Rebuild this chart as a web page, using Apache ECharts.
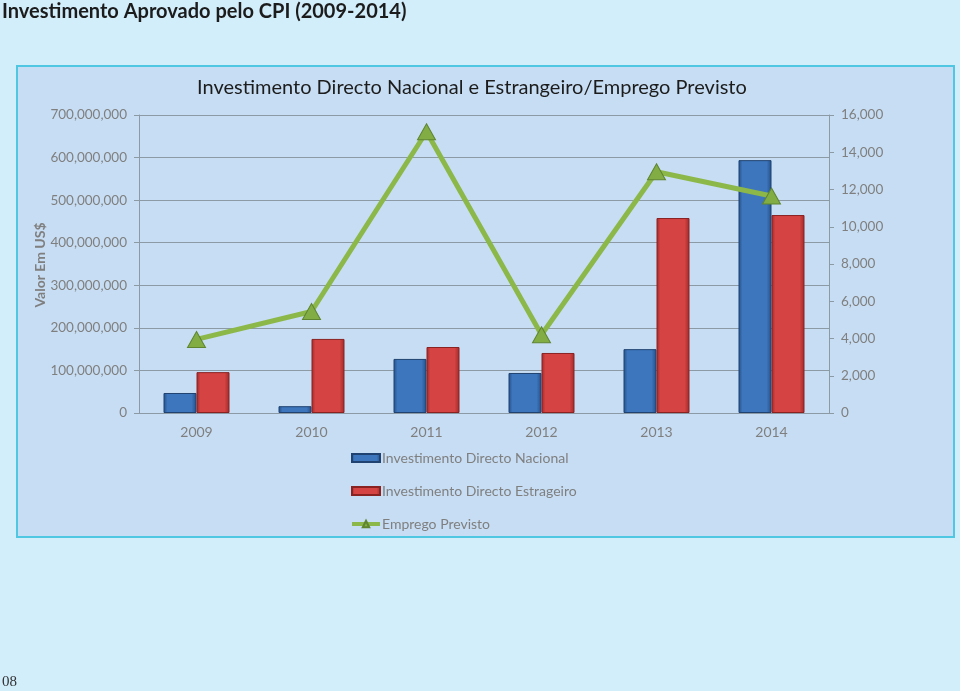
<!DOCTYPE html>
<html><head><meta charset="utf-8">
<script src="https://cdn.jsdelivr.net/npm/echarts@6/dist/echarts.min.js"></script>
<style>html,body{margin:0;padding:0;background:#d2eefb;}#c{width:960px;height:691px;}</style>
</head><body><div id="c"></div>
<script>
const categories = ['2009','2010','2011','2012','2013','2014'];
const nacional = [47000000, 16000000, 127000000, 94000000, 150000000, 594000000];
const estrangeiro = [96000000, 174000000, 155000000, 141000000, 458000000, 465000000];
const emprego = [3950, 5450, 15100, 4200, 12950, 11650];
const leftTicks = {min:0, max:700000000, interval:100000000};
const rightTicks = {min:0, max:16000, interval:2000};

function fmt(v){return String(v).replace(/\B(?=(\d{3})+(?!\d))/g, ',');}
const grad = (dark, light) => new echarts.graphic.LinearGradient(0,0,1,0,[
  {offset:0,color:dark},{offset:0.12,color:light},{offset:0.85,color:light},{offset:1,color:dark}]);
const chart = echarts.init(document.getElementById('c'), null, {renderer:'canvas'});
const gray = '#7f7f7f';
chart.setOption({
  animation:false,
  textStyle:{fontFamily:'Lato, "Open Sans", sans-serif'},
  graphic:[
    {type:'rect', z:-10, shape:{x:17,y:66,width:937,height:471},
     style:{fill:'#c7ddf3', stroke:'#4fc6e2', lineWidth:2}},
    {type:'text', x:40, y:265, rotation:Math.PI/2,
     style:{text:'Valor Em US$', fill:gray, font:'bold 14px Lato', align:'center', verticalAlign:'middle'}}
  ],
  title:[
    {text:'Investimento Aprovado pelo CPI (2009-2014)', left:2, top:2, padding:0,
     textStyle:{fontSize:20, fontWeight:'bold', color:'#1c1c1c', fontFamily:'Lato'}},
    {text:'Investimento Directo Nacional e Estrangeiro/Emprego Previsto', left:197, top:78, padding:0,
     textStyle:{fontSize:20, fontWeight:'normal', color:'#1c1c1c', fontFamily:'Lato'}},
    {text:'08', left:2, top:675, padding:0, textStyle:{fontSize:15, fontWeight:'normal', color:'#333', fontFamily:'"Liberation Serif", serif'}}
  ],
  grid:{left:139, right:131, top:115, bottom:278},
  legend:{orient:'vertical', left:350, top:451, padding:0, itemGap:19, itemWidth:28, itemHeight:8,
    textStyle:{color:gray, fontSize:14, padding:[0,0,0,-3]},
    data:[{name:'Investimento Directo Nacional', icon:'rect'},{name:'Investimento Directo Estrageiro', icon:'rect'},
          {name:'Emprego Previsto', lineStyle:{width:4}}]},
  xAxis:{type:'category', data:categories,
    axisLine:{lineStyle:{color:'#8c9aa6'}}, axisTick:{show:false},
    axisLabel:{color:gray, fontSize:14, margin:12}},
  yAxis:[
    {type:'value', min:leftTicks.min, max:leftTicks.max, interval:leftTicks.interval,
     axisLine:{show:true, lineStyle:{color:'#8c9aa6'}}, axisTick:{show:true, length:5, lineStyle:{color:'#8c9aa6'}},
     axisLabel:{color:gray, fontSize:13.5, margin:12, formatter:fmt},
     splitLine:{lineStyle:{color:'#8c9aa6', width:1}}},
    {type:'value', min:rightTicks.min, max:rightTicks.max, interval:rightTicks.interval, position:'right',
     axisLine:{show:true, lineStyle:{color:'#8c9aa6'}}, axisTick:{show:true, length:5, lineStyle:{color:'#8c9aa6'}},
     axisLabel:{color:gray, fontSize:13.5, margin:12, formatter:fmt},
     splitLine:{show:false}}
  ],
  series:[
    {name:'Investimento Directo Nacional', type:'bar', data:nacional, barWidth:33, barGap:'0%',
     itemStyle:{color:grad('#244f88','#3d76bd'), borderColor:'#1f4270', borderWidth:1}},
    {name:'Investimento Directo Estrageiro', type:'bar', data:estrangeiro, barWidth:33,
     itemStyle:{color:grad('#9e2a2a','#d64343'), borderColor:'#8a2222', borderWidth:1}},
    {name:'Emprego Previsto', type:'line', yAxisIndex:1, data:emprego,
     lineStyle:{color:'#8cb84a', width:5}, symbol:'triangle', symbolSize:[18,16],
     itemStyle:{color:'#82ad45', borderColor:'#5f8530', borderWidth:1}}
  ]
});
</script></body></html>
